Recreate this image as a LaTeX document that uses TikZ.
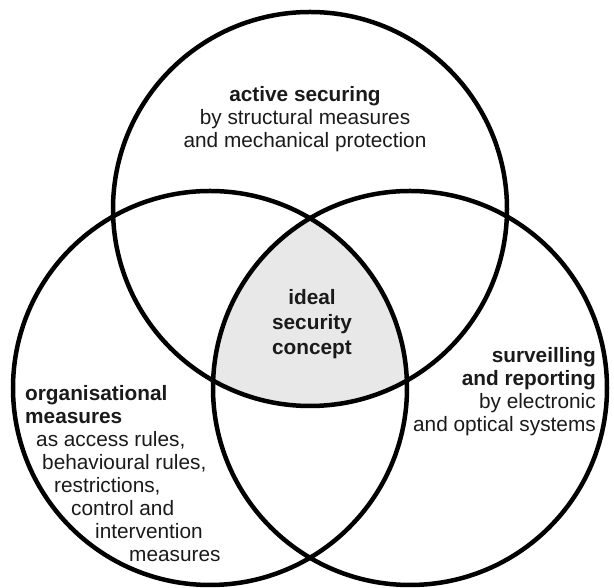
\documentclass[tikz,border=0pt]{standalone}
\usepackage{fontspec}
\setmainfont{Liberation Sans}
\usetikzlibrary{positioning}
\definecolor{coregray}{HTML}{E8E8E8}
\definecolor{inkgray}{HTML}{1A1A1A}
\tikzset{
  ring/.style={line width=4.5pt, draw=black},
  lbl/.style={font=\fontsize{20.8}{23}\selectfont, inner sep=0pt, text=inkgray},
}

\begin{document}
\begin{tikzpicture}[x=1pt,y=1pt]
  \useasboundingbox (0,0) rectangle (614,588);
  % circle centres
  \coordinate (ctop) at (310,379);
  \coordinate (cleft) at (210,200);
  \coordinate (cright) at (410,200);

  % shaded core (all three overlap)
  \begin{scope}
    \clip (ctop) circle (197);
    \clip (cleft) circle (197);
    \fill[coregray] (cright) circle (197);
  \end{scope}

  % the three circles
  \draw[ring] (ctop) circle (197);
  \draw[ring] (cleft) circle (197);
  \draw[ring] (cright) circle (197);

  % labels (base = baseline of the last line)
  \node[lbl, align=center, anchor=base] (active) at (305,440)
    {\textbf{active securing}\\by structural measures\\and mechanical protection};
  \node[lbl, align=center, anchor=base, font=\fontsize{20.8}{25}\selectfont] (ideal) at (312,233)
    {\textbf{ideal}\\\textbf{security}\\\textbf{concept}};
  \node[lbl, align=right, anchor=base east] (surv) at (596,156)
    {\textbf{surveilling}\\\textbf{and reporting}\\by electronic\\and optical systems};
  \node[lbl, align=left, anchor=base west] (orga) at (25,26)
    {\textbf{organisational}\\\textbf{measures}\\\hspace*{11pt}as access rules,\\\hspace*{17pt}behavioural rules,\\\hspace*{29pt}restrictions,\\\hspace*{46pt}control and\\\hspace*{70pt}intervention\\\hspace*{104pt}measures};
\end{tikzpicture}
\end{document}
